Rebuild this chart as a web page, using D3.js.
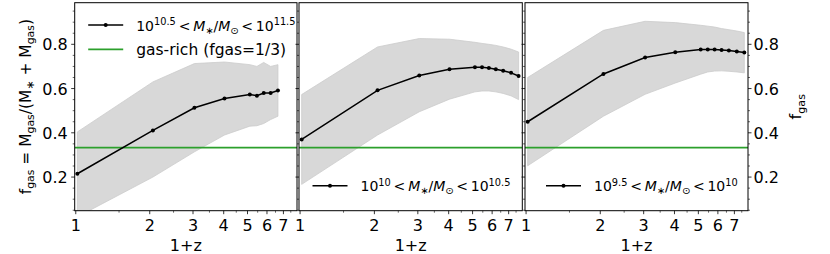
<!DOCTYPE html>
<meta charset="utf-8">
<head>
  <title>Gas fraction vs redshift</title>
</head>

<style>
body { margin: 0; background: white; }
text {
  font-family: "DejaVu Sans", sans-serif;
  fill: black;
}
.band { fill: #d8d8d8; stroke: #cccccc; stroke-width: 0.8; }
.med { fill: none; stroke: black; stroke-width: 1.5; }
.spine { fill: none; stroke: black; stroke-width: 1; }
</style>

<body>
  <svg width="830" height="254"></svg>

  <script src="https://d3js.org/d3.v7.min.js"></script>
  <script>
// 1+z of each snapshot
var onePlusZ = [1.015, 2.06, 3.04, 4.03, 5.11, 5.46, 5.82, 6.21, 6.65, 7.16, 7.68];

// 10^10.5 < M*/Msun < 10^11.5
var med1 = [0.215, 0.411, 0.513, 0.555, 0.573, 0.568, 0.580, 0.580, 0.591];
var up1  = [0.404, 0.630, 0.713, 0.720, 0.708, 0.700, 0.718, 0.700, 0.708];
var lo1  = [0.020, 0.200, 0.314, 0.390, 0.430, 0.432, 0.442, 0.460, 0.475];

// 10^10 < M*/Msun < 10^10.5
var med2 = [0.370, 0.592, 0.659, 0.687, 0.696, 0.696, 0.693, 0.687, 0.680, 0.671, 0.657];
var up2  = [0.573, 0.788, 0.826, 0.823, 0.809, 0.804, 0.800, 0.795, 0.788, 0.778, 0.765];
var lo2  = [0.167, 0.390, 0.495, 0.552, 0.585, 0.589, 0.589, 0.585, 0.578, 0.567, 0.550];

// 10^9.5 < M*/Msun < 10^10
var med3 = [0.450, 0.666, 0.740, 0.764, 0.776, 0.776, 0.776, 0.774, 0.772, 0.767, 0.763];
var up3  = [0.650, 0.863, 0.904, 0.898, 0.886, 0.882, 0.878, 0.871, 0.866, 0.860, 0.853];
var lo3  = [0.251, 0.475, 0.574, 0.625, 0.665, 0.675, 0.679, 0.680, 0.678, 0.675, 0.671];

var gasRich = 1 / 3;

var xMajor = [1, 2, 3, 4, 5, 6, 7];
var xMinor = [1.5, 2.5, 3.5, 4.5, 5.5, 6.5, 7.5];
var yMajor = [0.2, 0.4, 0.6, 0.8];
var yMinor = [0.05, 0.1, 0.15, 0.25, 0.3, 0.35, 0.45, 0.5, 0.55, 0.65, 0.7, 0.75, 0.85, 0.9, 0.95];

// legend labels as [text, style] pieces
var lt_ = "\u2009<\u2009";
var label1 = [["10",""],["10.5","sup"],[lt_,""],["M","it"],["\u2217","sub"],["/",""],["M","it"],["\u2299","sub"],[lt_ + "10",""],["11.5","sup"]];
var label2 = [["10",""],["10","sup"],[lt_,""],["M","it"],["\u2217","sub"],["/",""],["M","it"],["\u2299","sub"],[lt_ + "10",""],["10.5","sup"]];
var label3 = [["10",""],["9.5","sup"],[lt_,""],["M","it"],["\u2217","sub"],["/",""],["M","it"],["\u2299","sub"],[lt_ + "10",""],["10","sup"]];
var yLabelLeft = [["f",""],["gas","sub"],[" = M",""],["gas","sub"],["/(M",""],["\u2217","sub"],[" + M",""],["gas","sub"],[")",""]];
var yLabelRight = [["f",""],["gas","sub"]];

var panels = [
  {x0: 74.7, x1: 297, med: med1, up: up1, lo: lo1, label: label1, legend: "top"},
  {x0: 299, x1: 522.3, med: med2, up: up2, lo: lo2, label: label2, legend: "bottom"},
  {x0: 525, x1: 748, med: med3, up: up3, lo: lo3, label: label3, legend: "bottom"}
];

var yTop = 2.7, yBottom = 210.7;
var fs = 16, fsLeg = 15.5, fsMath = 14;

var svg = d3.select("svg");

var y = d3.scaleLinear().domain([0.048, 0.988]).range([yBottom, yTop]);

function richText(sel, pieces, size) {
  var shift = 0;
  pieces.forEach(function(p) {
    var t = sel.append("tspan").text(p[0]);
    var target = 0, s = size;
    if (p[1] == "sup") { target = -0.38 * size; s = size * 0.7; }
    if (p[1] == "sub") { target = 0.22 * size; s = size * 0.7; }
    if (p[1] == "it") t.attr("font-style", "italic");
    t.attr("font-size", s).attr("dy", target - shift);
    shift = target;
  });
}

panels.forEach(function(p, i) {
  var x = d3.scaleLog().domain([0.99, 7.95]).range([p.x0, p.x1]);
  var xs = onePlusZ.slice(0, p.med.length);
  var g = svg.append("g");

  g.append("clipPath").attr("id", "clip" + i)
    .append("rect").attr("x", p.x0).attr("y", yTop)
    .attr("width", p.x1 - p.x0).attr("height", yBottom - yTop);

  var inner = g.append("g").attr("clip-path", "url(#clip" + i + ")");

  var area = d3.area()
    .x(function(d, j) { return x(xs[j]); })
    .y0(function(d, j) { return y(p.lo[j]); })
    .y1(function(d, j) { return y(p.up[j]); });
  inner.append("path").attr("class", "band").attr("d", area(xs));

  inner.append("line")
    .attr("x1", p.x0).attr("x2", p.x1)
    .attr("y1", y(gasRich)).attr("y2", y(gasRich))
    .attr("stroke", "#2ca02c").attr("stroke-width", 1.8);

  var line = d3.line()
    .x(function(d, j) { return x(xs[j]); })
    .y(function(d) { return y(d); });
  inner.append("path").attr("class", "med").attr("d", line(p.med));
  inner.selectAll("circle").data(p.med).enter().append("circle")
    .attr("cx", function(d, j) { return x(xs[j]); })
    .attr("cy", function(d) { return y(d); })
    .attr("r", 2);

  // x axis
  var xAxis = g.append("g").attr("transform", "translate(0," + yBottom + ")");
  xAxis.selectAll(".maj").data(xMajor).enter().append("line")
    .attr("x1", x).attr("x2", x).attr("y1", 0).attr("y2", 3.5)
    .attr("stroke", "black").attr("stroke-width", 0.8);
  xAxis.selectAll(".min").data(xMinor.filter(function(v) { return x(v) <= p.x1; })).enter().append("line")
    .attr("x1", x).attr("x2", x).attr("y1", 0).attr("y2", 2)
    .attr("stroke", "black").attr("stroke-width", 0.6);
  xAxis.selectAll("text").data(xMajor).enter().append("text")
    .attr("x", x).attr("y", 20)
    .attr("text-anchor", "middle").attr("font-size", fs)
    .text(function(d) { return d; });
  g.append("text")
    .attr("x", (p.x0 + p.x1) / 2).attr("y", 251)
    .attr("text-anchor", "middle").attr("font-size", fs)
    .text("1+z");

  // y ticks (left side, outward)
  var yAxis = g.append("g");
  yAxis.selectAll(".maj").data(yMajor).enter().append("line")
    .attr("x1", p.x0 - 3.5).attr("x2", p.x0)
    .attr("y1", y).attr("y2", y)
    .attr("stroke", "black").attr("stroke-width", 0.8);
  yAxis.selectAll(".min").data(yMinor).enter().append("line")
    .attr("x1", p.x0 - 2).attr("x2", p.x0)
    .attr("y1", y).attr("y2", y)
    .attr("stroke", "black").attr("stroke-width", 0.6);

  if (i == 0) {
    yAxis.selectAll("text").data(yMajor).enter().append("text")
      .attr("x", p.x0 - 7).attr("y", function(d) { return y(d) + 6; })
      .attr("text-anchor", "end").attr("font-size", fs)
      .text(function(d) { return d.toFixed(1); });
    var yl = g.append("text")
      .attr("transform", "translate(31," + ((yTop + yBottom) / 2) + ") rotate(-90)")
      .attr("text-anchor", "middle").attr("font-size", 15.5);
    richText(yl, yLabelLeft, 15.5);
  }
  if (i == 2) {
    var rAxis = g.append("g");
    rAxis.selectAll(".maj").data(yMajor).enter().append("line")
      .attr("x1", p.x1).attr("x2", p.x1 + 3.5)
      .attr("y1", y).attr("y2", y)
      .attr("stroke", "black").attr("stroke-width", 0.8);
    rAxis.selectAll(".min").data(yMinor).enter().append("line")
      .attr("x1", p.x1).attr("x2", p.x1 + 2)
      .attr("y1", y).attr("y2", y)
      .attr("stroke", "black").attr("stroke-width", 0.6);
    rAxis.selectAll("text").data(yMajor).enter().append("text")
      .attr("x", p.x1 + 5.5).attr("y", function(d) { return y(d) + 6; })
      .attr("text-anchor", "start").attr("font-size", fs)
      .text(function(d) { return d.toFixed(1); });
    var yr = g.append("text")
      .attr("transform", "translate(801," + ((yTop + yBottom) / 2) + ") rotate(-90)")
      .attr("text-anchor", "middle").attr("font-size", fs);
    richText(yr, yLabelRight, fs);
  }

  g.append("rect").attr("class", "spine")
    .attr("x", p.x0).attr("y", yTop)
    .attr("width", p.x1 - p.x0).attr("height", yBottom - yTop);

  // legend
  var lx = p.x0 + 13.5, ly = p.legend == "top" ? 25 : 185.7;
  if (i == 2) lx = p.x0 + 21;
  var leg = g.append("g");
  leg.append("line").attr("x1", lx).attr("x2", lx + 35)
    .attr("y1", ly).attr("y2", ly).attr("stroke", "black").attr("stroke-width", 1.5);
  leg.append("circle").attr("cx", lx + 17.5).attr("cy", ly).attr("r", 2);
  var lt = leg.append("text").attr("x", lx + 48).attr("y", ly + 5.5).attr("font-size", fsMath);
  richText(lt, p.label, fsMath);
  if (i == 0) {
    leg.append("line").attr("x1", lx).attr("x2", lx + 35)
      .attr("y1", ly + 24.3).attr("y2", ly + 24.3).attr("stroke", "#2ca02c").attr("stroke-width", 1.8);
    leg.append("text").attr("x", lx + 48).attr("y", ly + 29.8).attr("font-size", fsLeg)
      .text("gas-rich (fgas=1/3)");
  }
});
  </script>
</body>
</html>
